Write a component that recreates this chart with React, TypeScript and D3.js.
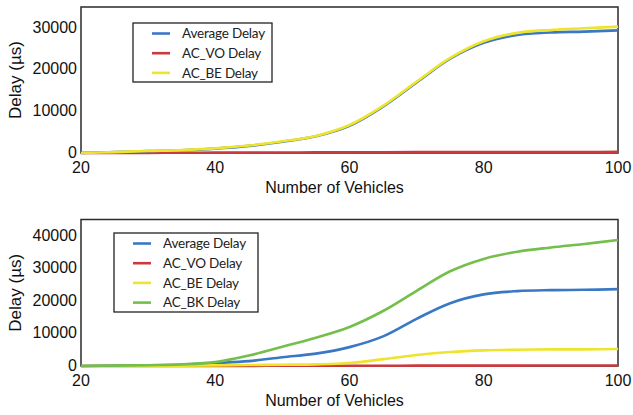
import React from "react";
import * as d3 from "d3";

const vehicles = [20, 25, 30, 35, 40, 45, 50, 55, 60, 65, 70, 75, 80, 85, 90, 95, 100];

// Top panel (three access categories)
const topAverage = [0, 200, 450, 650, 1050, 1700, 2700, 4000, 6500, 11100, 16900, 22600, 26400, 28300, 28900, 29100, 29400];
const topVO = [0, 20, 40, 60, 80, 100, 120, 140, 160, 180, 200, 210, 220, 230, 240, 250, 260];
const topBE = [0, 220, 480, 700, 1100, 1800, 2800, 4100, 6700, 11300, 17100, 22800, 26800, 28800, 29500, 29900, 30300];

// Bottom panel (four access categories)
const botAverage = [0, 100, 200, 400, 900, 1500, 2700, 3800, 5800, 9100, 14500, 19300, 22000, 23000, 23300, 23400, 23600];
const botVO = [0, 10, 20, 30, 40, 50, 60, 70, 80, 90, 100, 110, 120, 130, 140, 150, 160];
const botBE = [0, 0, 50, 100, 200, 300, 400, 500, 900, 2100, 3400, 4300, 4800, 5000, 5100, 5100, 5200];
const botBK = [0, 100, 250, 500, 1200, 3200, 5900, 8700, 12000, 16900, 23100, 29100, 32900, 35100, 36400, 37500, 38700];

const xTicks = [20, 40, 60, 80, 100];
const topYTicks = [0, 10000, 20000, 30000];
const botYTicks = [0, 10000, 20000, 30000, 40000];

const COLORS = {
  avg: "#3b78c4",
  vo: "#c9393d",
  be: "#efe42c",
  bk: "#74bf4b",
};

interface Series {
  name: string;
  color: string;
  values: number[];
}

interface PanelProps {
  top: number;
  bottom: number;
  yMax: number;
  yTicks: number[];
  series: Series[];
  legend: { x: number; y: number; w: number; h: number };
}

const left = 81;
const right = 618;
const font = "'Liberation Sans', Arial, sans-serif";

const Panel: React.FC<PanelProps> = ({ top, bottom, yMax, yTicks, series, legend }) => {
  const x = d3.scaleLinear().domain([20, 100]).range([left, right]);
  const y = d3.scaleLinear().domain([0, yMax]).range([bottom, top]);
  const line = d3
    .line<number>()
    .x((_, i) => x(vehicles[i]))
    .y((d) => y(d))
    .curve(d3.curveCatmullRom.alpha(0.5));

  // draw order: VO first so the others sit on top, like the original
  const drawOrder = [...series].sort((a, b) => (a.name.includes("VO") ? -1 : b.name.includes("VO") ? 1 : 0));

  return (
    <g>
      <rect x={left} y={top} width={right - left} height={bottom - top} fill="white" stroke="#2a2a2a" strokeWidth={1.5} />
      {drawOrder.map((s) => (
        <path key={s.name} d={line(s.values) || ""} fill="none" stroke={s.color} strokeWidth={2.6} />
      ))}
      {yTicks.map((t) => (
        <text key={t} x={left - 4} y={y(t) - 1} dy="0.36em" textAnchor="end" fontSize={16} fontFamily={font} fill="#111">
          {t}
        </text>
      ))}
      {xTicks.map((t) => (
        <text key={t} x={x(t)} y={bottom + 14} dy="0.36em" textAnchor="middle" fontSize={16} fontFamily={font} fill="#111">
          {t}
        </text>
      ))}
      <text
        x={(left + right) / 2 - 15}
        y={bottom + 34}
        dy="0.36em"
        textAnchor="middle"
        fontSize={16}
        fontFamily={font}
        fill="#111"
      >
        Number of Vehicles
      </text>
      <text
        transform={`translate(15,${(top + bottom) / 2}) rotate(-90)`}
        dy="0.36em"
        textAnchor="middle"
        fontSize={17}
        fontFamily={font}
        fill="#111"
      >
        Delay (µs)
      </text>
      <rect x={legend.x} y={legend.y} width={legend.w} height={legend.h} fill="white" stroke="#222" strokeWidth={1.3} />
      {series.map((s, i) => {
        const ry = legend.y + 10.5 + i * 19.7;
        return (
          <g key={s.name}>
            <line x1={legend.x + 19} x2={legend.x + 37} y1={ry} y2={ry} stroke={s.color} strokeWidth={2.6} />
            <text
              x={legend.x + 49}
              y={ry}
              dy="0.36em"
              fontSize={13.5}
              fontFamily="Lato, sans-serif"
              letterSpacing={-0.2}
              fill="#222"
            >
              {s.name}
            </text>
          </g>
        );
      })}
    </g>
  );
};

const App: React.FC = () => {
  const topSeries: Series[] = [
    { name: "Average Delay", color: COLORS.avg, values: topAverage },
    { name: "AC_VO Delay", color: COLORS.vo, values: topVO },
    { name: "AC_BE Delay", color: COLORS.be, values: topBE },
  ];
  const botSeries: Series[] = [
    { name: "Average Delay", color: COLORS.avg, values: botAverage },
    { name: "AC_VO Delay", color: COLORS.vo, values: botVO },
    { name: "AC_BE Delay", color: COLORS.be, values: botBE },
    { name: "AC_BK Delay", color: COLORS.bk, values: botBK },
  ];

  return (
    <svg width={633} height={415} style={{ position: "absolute", left: 0, top: 0, background: "white" }}>
      <Panel
        top={7}
        bottom={153}
        yMax={35000}
        yTicks={topYTicks}
        series={topSeries}
        legend={{ x: 133, y: 23, w: 139, h: 59 }}
      />
      <Panel
        top={219.5}
        bottom={366}
        yMax={45000}
        yTicks={botYTicks}
        series={botSeries}
        legend={{ x: 114, y: 233, w: 144, h: 79 }}
      />
    </svg>
  );
};

export default App;
